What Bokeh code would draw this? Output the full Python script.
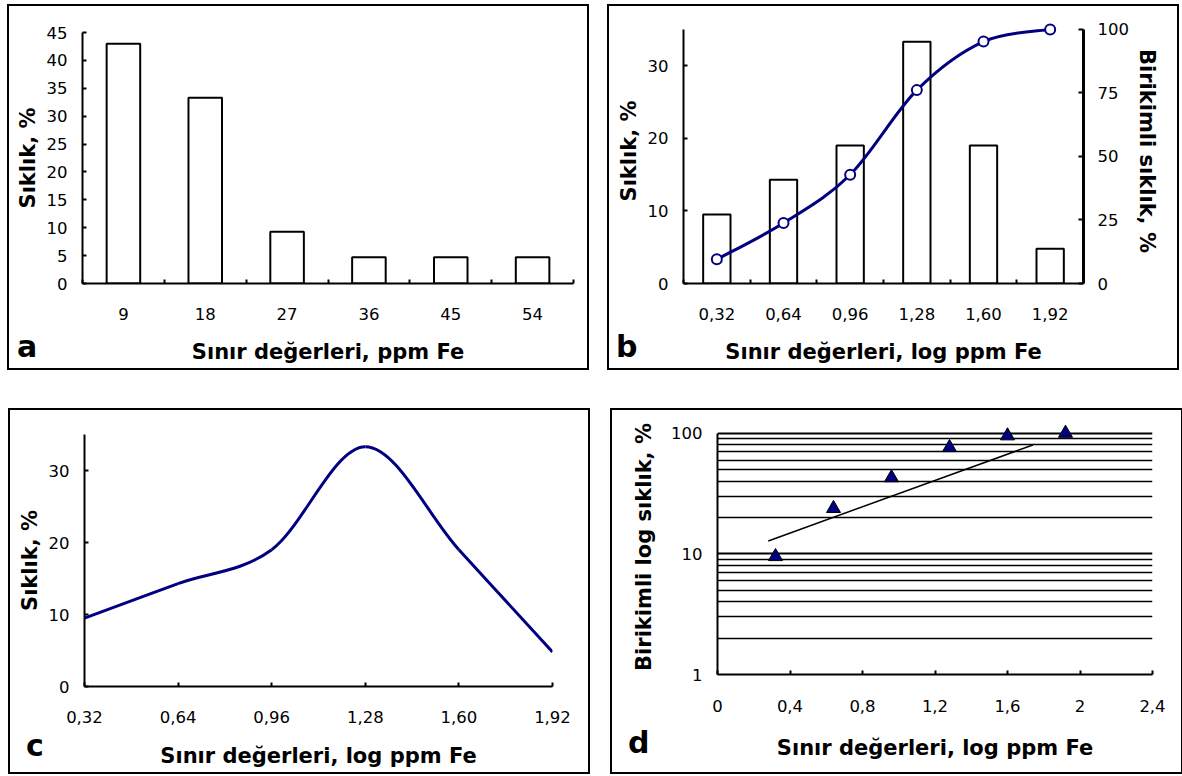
from bokeh.plotting import figure
from bokeh.models import Range1d, LinearAxis, FixedTicker, Spacer, BasicTickFormatter, Div
from bokeh.layouts import row, column
from bokeh.embed import file_html
from bokeh.resources import INLINE

# ---------------- data ----------------
a_limits = [9, 18, 27, 36, 45, 54]
a_labels = ["9", "18", "27", "36", "45", "54"]
a_freq = [43.0, 33.3, 9.3, 4.7, 4.7, 4.7]

log_limits = [0.32, 0.64, 0.96, 1.28, 1.60, 1.92]
log_labels = ["0,32", "0,64", "0,96", "1,28", "1,60", "1,92"]
log_freq = [9.5, 14.3, 19.0, 33.3, 19.0, 4.8]
cum_freq = [9.5, 23.8, 42.8, 76.1, 95.2, 100.0]

a_yticks = [0, 5, 10, 15, 20, 25, 30, 35, 40, 45]
b_yticks = [0, 10, 20, 30]
b_cum_ticks = [0, 25, 50, 75, 100]
d_xticks = [0, 0.4, 0.8, 1.2, 1.6, 2.0, 2.4]
d_xlabels = ["0", "0,4", "0,8", "1,2", "1,6", "2", "2,4"]
d_yticks = [1, 10, 100]
d_yminor = [2, 3, 4, 5, 6, 7, 8, 9, 20, 30, 40, 50, 60, 70, 80, 90]
trend_x = [0.28, 1.74]
trend_y = [12.8, 80.0]

FONT = "DejaVu Sans"
NAVY = "#000080"
TICK_FS = "16.5px"
TITLE_FS = "21px"


def style_axis(ax, standoff=14, label_standoff=6):
    ax.axis_line_color = "black"
    ax.axis_line_width = 2
    ax.major_tick_in = 4
    ax.major_tick_out = 0
    ax.minor_tick_in = 0
    ax.minor_tick_out = 0
    ax.major_tick_line_color = "black"
    ax.major_tick_line_width = 2
    ax.minor_tick_line_color = "black"
    ax.minor_tick_line_width = 2
    ax.major_label_text_font = FONT
    ax.major_label_text_font_size = TICK_FS
    ax.major_label_text_color = "black"
    ax.major_label_standoff = standoff
    ax.axis_label_text_font = FONT
    ax.axis_label_text_font_style = "bold"
    ax.axis_label_text_font_size = TITLE_FS
    ax.axis_label_text_color = "black"
    ax.axis_label_standoff = label_standoff


def make_fig(w, h, l, r, t, b, xr, yr, y_type="linear"):
    p = figure(width=w, height=h, x_range=xr, y_range=yr, y_axis_type=y_type,
               output_backend="svg", toolbar_location=None, title=None,
               min_border_left=l, min_border_right=r, min_border_top=t, min_border_bottom=b)
    try:
        p.frame_align = False
    except Exception:
        pass
    p.outline_line_color = None
    p.xgrid.visible = False
    p.ygrid.visible = False
    p.background_fill_color = "white"
    p.border_fill_color = "white"
    p.styles = {"border": "2px solid black"}
    return p


def letter(txt, top, right, left):
    return Div(text=txt, width=30, height=30,
               styles={"margin": f"{top}px {right}px 0px {left}px",
                       "font-family": FONT, "font-weight": "bold", "font-size": "30px",
                       "line-height": "30px", "color": "black"})


def smooth(xs, ys, k=6.0):
    n = len(xs)
    d = dict(x0=[], y0=[], x1=[], y1=[], cx0=[], cy0=[], cx1=[], cy1=[])
    for i in range(n - 1):
        xp, yp = (xs[i - 1], ys[i - 1]) if i > 0 else (xs[i], ys[i])
        xn, yn = (xs[i + 2], ys[i + 2]) if i + 2 < n else (xs[i + 1], ys[i + 1])
        d["x0"].append(xs[i]); d["y0"].append(ys[i])
        d["x1"].append(xs[i + 1]); d["y1"].append(ys[i + 1])
        d["cx0"].append(xs[i] + (xs[i + 1] - xp) / k)
        d["cy0"].append(ys[i] + (ys[i + 1] - yp) / k)
        d["cx1"].append(xs[i + 1] - (xn - xs[i]) / k)
        d["cy1"].append(ys[i + 1] - (yn - ys[i]) / k)
    return d


XSTAND, XLSTAND = 24, 17

# ---------------- panel a ----------------
a_step = a_limits[1] - a_limits[0]
a_bounds = [a_limits[0] - a_step / 2 + a_step * i for i in range(len(a_limits) + 1)]
pa = make_fig(582, 366, 73, 18, 26, 89,
              Range1d(a_bounds[0], a_bounds[-1]), Range1d(0, 45))
pa.vbar(x=a_limits, top=a_freq, width=a_step * 0.41, fill_color="white",
        line_color="black", line_width=2)
style_axis(pa.xaxis[0], standoff=XSTAND, label_standoff=XLSTAND)
pa.xaxis.ticker = FixedTicker(ticks=a_limits, minor_ticks=a_bounds)
pa.xaxis.major_tick_in = 0
pa.xaxis.minor_tick_in = 4
pa.xaxis.major_label_overrides = dict(zip(a_limits, a_labels))
pa.xaxis.axis_label = "Sınır değerleri, ppm Fe"
style_axis(pa.yaxis[0], standoff=15, label_standoff=4)
pa.yaxis.ticker = FixedTicker(ticks=a_yticks)
pa.yaxis.axis_label = "Sıklık, %"

# ---------------- panel b ----------------
b_step = log_limits[1] - log_limits[0]
b_bounds = [log_limits[0] - b_step / 2 + b_step * i for i in range(len(log_limits) + 1)]
pb = make_fig(572, 366, 74, 98, 12, 89,
              Range1d(b_bounds[0], b_bounds[-1]), Range1d(0, 36.5))
pb.extra_y_ranges = {"cum": Range1d(0, 36.5 / 35 * 100)}
pb.vbar(x=log_limits, top=log_freq, width=b_step * 0.41, fill_color="white",
        line_color="black", line_width=2)
bz = smooth(log_limits, cum_freq)
pb.bezier(x0=bz["x0"], y0=bz["y0"], x1=bz["x1"], y1=bz["y1"], cx0=bz["cx0"], cy0=bz["cy0"],
          cx1=bz["cx1"], cy1=bz["cy1"], line_color=NAVY, line_width=3, y_range_name="cum")
pb.scatter(log_limits, cum_freq, marker="circle", size=10, fill_color="white",
           line_color=NAVY, line_width=2, y_range_name="cum")
style_axis(pb.xaxis[0], standoff=XSTAND, label_standoff=XLSTAND)
pb.xaxis.ticker = FixedTicker(ticks=log_limits, minor_ticks=b_bounds)
pb.xaxis.major_tick_in = 0
pb.xaxis.minor_tick_in = 4
pb.xaxis.major_label_overrides = dict(zip(log_limits, log_labels))
pb.xaxis.axis_label = "Sınır değerleri, log ppm Fe"
style_axis(pb.yaxis[0], standoff=15, label_standoff=4)
pb.yaxis.ticker = FixedTicker(ticks=b_yticks)
pb.yaxis.bounds = (0, 35)
pb.yaxis.axis_label = "Sıklık, %"
rax = LinearAxis(y_range_name="cum", axis_label="Birikimli sıklık, %")
style_axis(rax, standoff=14, label_standoff=3)
rax.axis_line_width = 3
rax.major_tick_in = 5
rax.ticker = FixedTicker(ticks=b_cum_ticks)
rax.bounds = (0, 100)
pb.add_layout(rax, "right")

# ---------------- panel c ----------------
pc = make_fig(582, 366, 74, 40, 24, 90,
              Range1d(log_limits[0], log_limits[-1]), Range1d(0, 35))
cz = smooth(log_limits, log_freq)
pc.bezier(x0=cz["x0"], y0=cz["y0"], x1=cz["x1"], y1=cz["y1"], cx0=cz["cx0"], cy0=cz["cy0"],
          cx1=cz["cx1"], cy1=cz["cy1"], line_color=NAVY, line_width=3)
style_axis(pc.xaxis[0], standoff=XSTAND, label_standoff=XLSTAND + 1)
pc.xaxis.ticker = FixedTicker(ticks=log_limits)
pc.xaxis.major_label_overrides = dict(zip(log_limits, log_labels))
pc.xaxis.axis_label = "Sınır değerleri, log ppm Fe"
style_axis(pc.yaxis[0], standoff=15, label_standoff=4)
pc.yaxis.ticker = FixedTicker(ticks=b_yticks)
pc.yaxis.axis_label = "Sıklık, %"

# ---------------- panel d ----------------
pd_ = make_fig(573, 366, 105, 33, 9, 102,
               Range1d(d_xticks[0], d_xticks[-1]), Range1d(d_yticks[0], 130), y_type="log")
pd_.ygrid.visible = True
pd_.ygrid.ticker = FixedTicker(ticks=d_yticks, minor_ticks=d_yminor)
pd_.ygrid.grid_line_color = "black"
pd_.ygrid.grid_line_width = 2
pd_.ygrid.minor_grid_line_color = "black"
pd_.ygrid.minor_grid_line_width = 1.5
pd_.line(trend_x, trend_y, line_color="black", line_width=1.5)
pd_.scatter(log_limits, cum_freq, marker="triangle", size=14, fill_color=NAVY,
            line_color="black", line_width=1)
style_axis(pd_.xaxis[0], standoff=XSTAND + 1, label_standoff=XLSTAND + 4)
pd_.xaxis.ticker = FixedTicker(ticks=d_xticks)
pd_.xaxis.major_label_overrides = dict(zip(d_xticks, d_xlabels))
pd_.xaxis.axis_label = "Sınır değerleri, log ppm Fe"
style_axis(pd_.yaxis[0], standoff=15, label_standoff=12)
pd_.yaxis.ticker = FixedTicker(ticks=d_yticks, minor_ticks=d_yminor)
pd_.yaxis.formatter = BasicTickFormatter()
pd_.yaxis.major_tick_in = 0
pd_.yaxis.bounds = (1, 100)
pd_.yaxis.axis_label = "Birikimli log sıklık, %"

row1 = row(Spacer(width=7), pa, letter("a", 328, 540, -572),
           Spacer(width=20), pb, letter("b", 328, 531, -563))
row2 = row(Spacer(width=8), pc, letter("c", 323, 536, -564),
           Spacer(width=18), pd_, letter("d", 320, 523, -555))
root = column(Spacer(height=4), row1, Spacer(height=38), row2)

open("out.html", "w").write(file_html(root, INLINE))
